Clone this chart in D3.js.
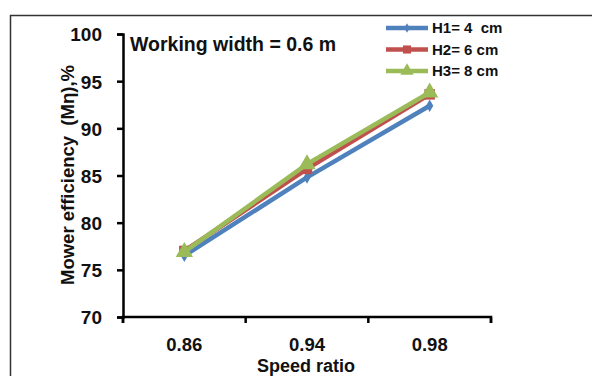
<!DOCTYPE html>
<html>
<head>
<meta charset="utf-8">
<script src="https://cdn.jsdelivr.net/npm/d3@7"></script>
<style>
body{margin:0;background:#fff;}
text{font-family:"Liberation Sans",Arial,sans-serif;font-weight:bold;fill:#111;white-space:pre;}
</style>
</head>
<body>
<div class="container"></div>
<script>
var speeds = ["0.86","0.94","0.98"];
var yTicks = [70,75,80,85,90,95,100];
var seriesNames = ["H1= 4  cm","H2= 6 cm","H3= 8 cm"];
var h1 = [76.5,84.8,92.4];
var h2 = [77.0,85.7,93.6];
var h3 = [76.9,86.2,93.8];
var colors = ["#4F81BD","#C0504D","#9BBB59"];
var shapes = [d3.symbolDiamond,d3.symbolSquare,d3.symbolTriangle];
var sizes = [45,110,130];

var svg = d3.select('.container').append('svg').attr("width",592).attr("height",376);

// outer frame, runs off right and bottom like the clip
svg.append("rect").attr("x",10.5).attr("y",15.5).attr("width",600).attr("height",400)
  .attr("fill","none").attr("stroke","#333").attr("stroke-width",1.5);

const LEFT = 123, RIGHT = 491, TOP = 34, BOTTOM = 317;

var x = d3.scaleBand().domain(speeds).range([LEFT,RIGHT]);
var y = d3.scaleLinear().domain([70,100]).range([BOTTOM,TOP]);

var yAxis = svg.append("g").attr("transform","translate("+LEFT+",0)")
  .call(d3.axisLeft(y).tickValues(yTicks).tickSize(6).tickPadding(15));
var xAxis = svg.append("g").attr("transform","translate(0,"+BOTTOM+")")
  .call(d3.axisBottom(x).tickSize(0).tickPadding(21));
[yAxis,xAxis].forEach(function(a){
  a.select(".domain").attr("stroke","#000").attr("stroke-width",2.5);
  a.selectAll("line").attr("stroke","#000").attr("stroke-width",2.5);
  a.selectAll("text").attr("font-size",19).attr("fill","#111")
    .attr("font-family","Liberation Sans, Arial").attr("font-weight","bold");
});
yAxis.selectAll("text").attr("dy","0.36em");
xAxis.selectAll("text").attr("font-size",18.5);
xAxis.select(".domain").attr("d","M"+LEFT+",6V0H"+RIGHT+"V6");
// ticks between categories
xAxis.selectAll(".sep").data(d3.range(speeds.length+1)).enter().append("line")
  .attr("x1",function(i){return LEFT+i*x.step();})
  .attr("x2",function(i){return LEFT+i*x.step();})
  .attr("y1",0).attr("y2",6).attr("stroke","#000").attr("stroke-width",2.5);

svg.append("text").attr("x",(LEFT+RIGHT)/2-1).attr("y",372).attr("text-anchor","middle")
  .attr("font-size",18).text("Speed ratio");
svg.append("text").attr("transform","translate(74,175) rotate(-90)").attr("text-anchor","middle")
  .attr("font-size",18.5).text("Mower efficiency  (Mη),%");
svg.append("text").attr("x",130).attr("y",51).attr("font-size",19.5).text("Working width = 0.6 m");

var data = [h1,h2,h3];
var line = d3.line().x(function(d,i){return x(speeds[i])+x.bandwidth()/2;}).y(function(d){return y(d);});

data.forEach(function(vals,k){
  svg.append("path").attr("d",line(vals)).attr("fill","none")
    .attr("stroke",colors[k]).attr("stroke-width",4.5);
  svg.selectAll(".m"+k).data(vals).enter().append("path")
    .attr("d",d3.symbol().type(shapes[k]).size(sizes[k]))
    .attr("transform",function(d,i){return "translate("+(x(speeds[i])+x.bandwidth()/2)+","+y(d)+")";})
    .attr("fill",colors[k]);
});

// legend
seriesNames.forEach(function(name,k){
  var ly = 28 + k*21.5;
  svg.append("line").attr("x1",386).attr("x2",428).attr("y1",ly).attr("y2",ly)
    .attr("stroke",colors[k]).attr("stroke-width",4.5);
  svg.append("path").attr("d",d3.symbol().type(shapes[k]).size(sizes[k]*0.6)())
    .attr("transform","translate(407,"+ly+")").attr("fill",colors[k]);
  svg.append("text").attr("x",432).attr("y",ly+5).attr("font-size",15)
    .text(name);
});
</script>
</body>
</html>
